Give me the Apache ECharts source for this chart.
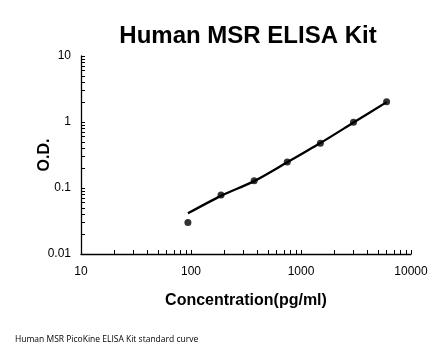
<!DOCTYPE html>
<html>
<head>
<meta charset="utf-8">
<script src="https://cdn.jsdelivr.net/npm/echarts@6/dist/echarts.min.js"></script>
<style>html,body{margin:0;padding:0;background:#fff;}#c{width:446px;height:356px;}</style>
</head>
<body>
<div id="c"></div>
<script>
var concentrations = [93.75, 187.5, 375, 750, 1500, 3000, 6000];
var odValues = [0.030, 0.078, 0.129, 0.248, 0.475, 0.99, 2.03];
var fitValues = [0.0413, 0.076, 0.127, 0.245, 0.48, 0.98, 2.0];
var xTickLabels = [10, 100, 1000, 10000];
var yTickLabels = [0.01, 0.1, 1, 10];

function minorTicks(lo, hi) {
  var out = [];
  for (var d = lo; d < hi; d *= 10) {
    for (var k = 1; k < 10; k++) out.push(+(d * k).toPrecision(6));
  }
  out.push(hi);
  return out;
}
var xTicks = minorTicks(10, 10000);
var yTicks = minorTicks(0.01, 10);

var chart = echarts.init(document.getElementById('c'), null, {renderer: 'canvas'});
var font = 'Liberation Sans, Arial, sans-serif';
chart.setOption({
  animation: false,
  backgroundColor: '#fff',
  title: {
    text: 'Human MSR ELISA Kit',
    left: 243, top: 19, textAlign: 'center',
    textStyle: {fontFamily: font, fontWeight: 'bold', fontSize: 24, color: '#000'}
  },
  grid: {left: 81, right: 35, top: 56, bottom: 102},
  xAxis: {
    type: 'log', logBase: 10, min: 10, max: 10000,
    name: 'Concentration(pg/ml)', nameLocation: 'middle', nameGap: 39, nameMoveOverlap: false,
    nameTextStyle: {fontFamily: font, fontWeight: 'bold', fontSize: 16, color: '#000'},
    axisLine: {lineStyle: {color: '#000', width: 1.3}},
    axisTick: {inside: true, length: 4, lineStyle: {color: '#000'}, customValues: xTicks},
    axisLabel: {color: '#000', fontFamily: font, fontSize: 12, margin: 12, customValues: xTickLabels,
      formatter: function (v) { return String(v); }},
    splitLine: {show: false}
  },
  yAxis: {
    type: 'log', logBase: 10, min: 0.01, max: 10,
    name: 'O.D.', nameLocation: 'middle', nameGap: 28, nameRotate: 90, nameMoveOverlap: false,
    nameTextStyle: {fontFamily: font, fontWeight: 'bold', fontSize: 16, color: '#000'},
    axisLine: {show: true, lineStyle: {color: '#000', width: 1.3}},
    axisTick: {inside: true, length: 4, lineStyle: {color: '#000'}, customValues: yTicks},
    axisLabel: {color: '#000', fontFamily: font, fontSize: 12, margin: 10, customValues: yTickLabels,
      formatter: function (v) { return String(+v.toPrecision(3)); }},
    splitLine: {show: false}
  },
  series: [
    {
      type: 'line', smooth: 0.3,
      data: concentrations.map(function (c, i) { return [c, fitValues[i]]; }),
      showSymbol: false, symbol: 'none',
      lineStyle: {color: '#000', width: 2.3}
    },
    {
      type: 'scatter',
      data: concentrations.map(function (c, i) { return [c, odValues[i]]; }),
      symbol: 'circle', symbolSize: 7,
      itemStyle: {color: '#000'}
    }
  ],
  graphic: [{
    type: 'text', left: 15, top: 335,
    style: {text: 'Human MSR PicoKine ELISA Kit standard curve', fontFamily: 'Open Sans, sans-serif', fontSize: 8.5, fill: '#000'}
  }]
});
</script>
</body>
</html>
